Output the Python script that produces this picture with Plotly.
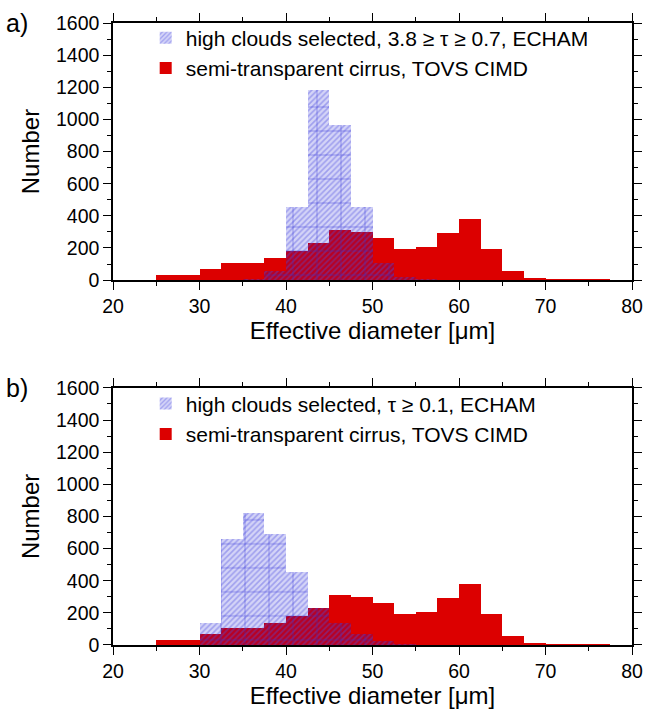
import plotly.graph_objects as go

# Bin left edges of effective diameter [µm], bin width 2.5
bin_lo = [20, 22.5, 25, 27.5, 30, 32.5, 35, 37.5, 40, 42.5, 45, 47.5,
          50, 52.5, 55, 57.5, 60, 62.5, 65, 67.5, 70, 72.5, 75, 77.5]
bin_width = 2.5

# TOVS CIMD semi-transparent cirrus (same in both panels)
tovs = [0, 0, 30, 35, 72, 108, 108, 140, 182, 232, 312, 300,
        263, 195, 207, 292, 378, 195, 58, 15, 8, 3, 1, 0]

# ECHAM high clouds, 3.8 >= tau >= 0.7
echam_a = [0, 0, 0, 0, 0, 2, 8, 58, 458, 1183, 965, 452,
           107, 22, 4, 1, 0, 0, 0, 0, 0, 0, 0, 0]
# ECHAM high clouds, tau >= 0.1
echam_b = [0, 0, 0, 0, 136, 660, 820, 692, 457, 230, 140, 68,
           25, 6, 2, 0, 0, 0, 0, 0, 0, 0, 0, 0]

name_a = "high clouds selected, 3.8 \u2265 \u03c4 \u2265 0.7, ECHAM"
name_b = "high clouds selected, \u03c4 \u2265 0.1, ECHAM"
name_red = "semi-transparent cirrus, TOVS CIMD"

x_ticks = [20, 30, 40, 50, 60, 70, 80]
y_ticks = [0, 200, 400, 600, 800, 1000, 1200, 1400, 1600]

FONT = "Liberation Sans, Arial, Helvetica, sans-serif"
RED = "rgb(220,0,0)"

fig = go.Figure()

panels = [("x", "y", echam_a, name_a, "legend"),
          ("x2", "y2", echam_b, name_b, "legend2")]

for xa, ya, echam, nm, lg in panels:
    fig.add_trace(go.Bar(
        x=bin_lo, y=tovs, width=bin_width, offset=0,
        xaxis=xa, yaxis=ya, name=name_red, legend=lg, legendrank=2,
        marker=dict(color=RED, line=dict(width=0)),
    ))
    fig.add_trace(go.Bar(
        x=bin_lo, y=echam, width=bin_width, offset=0,
        xaxis=xa, yaxis=ya, name=nm, legend=lg, legendrank=1,
        marker=dict(
            color="rgba(0,0,208,0.17)",
            line=dict(width=0),
            pattern=dict(shape="/", fillmode="overlay", fgcolor="rgb(80,80,225)",
                         fgopacity=0.4, size=4, solidity=0.4),
        ),
    ))
    fig.add_trace(go.Bar(
        x=bin_lo, y=echam, width=bin_width, offset=0,
        xaxis=xa, yaxis=ya, name=nm, legend=lg, showlegend=False,
        marker=dict(
            color="rgba(0,0,0,0)",
            line=dict(width=0),
            pattern=dict(shape="+", fillmode="replace", fgcolor="rgb(40,40,210)",
                         fgopacity=0.55, size=24, solidity=0.06),
        ),
    ))

axis_common = dict(
    showline=True, linecolor="black", linewidth=1.5, mirror="ticks",
    ticks="outside", ticklen=8, tickwidth=1.2, tickcolor="black",
    showgrid=False, zeroline=False,
    tickfont=dict(family=FONT, size=19.5, color="black"),
)

xax = dict(axis_common, range=[20, 80], tickvals=x_ticks,
           minor=dict(dtick=5, tick0=20, ticks="outside", ticklen=4, tickcolor="black", tickwidth=1.2),
           title=dict(text="Effective diameter [\u03bcm]", font=dict(family=FONT, size=24, color="black"),
                      standoff=5))
yax = dict(axis_common, range=[0, 1600], tickvals=y_ticks,
           minor=dict(dtick=100, tick0=0, ticks="outside", ticklen=4, tickcolor="black", tickwidth=1.2),
           title=dict(text="Number", font=dict(family=FONT, size=24, color="black"), standoff=10))

top_dom = [0.5866, 1.0]
bot_dom = [0.0, 0.4134]

legend_common = dict(
    bgcolor="rgba(0,0,0,0)", borderwidth=0, xanchor="left", yanchor="top",
    font=dict(family=FONT, size=21, color="black"), tracegroupgap=0,
)

fig.update_layout(
    width=659, height=716,
    margin=dict(l=113, r=27, t=18, b=69),
    paper_bgcolor="white", plot_bgcolor="white",
    barmode="overlay", bargap=0,
    font=dict(family=FONT, color="black"),
    xaxis=dict(xax, domain=[0, 1], anchor="y"),
    yaxis=dict(yax, domain=top_dom, anchor="x"),
    xaxis2=dict(xax, domain=[0, 1], anchor="y2"),
    yaxis2=dict(yax, domain=bot_dom, anchor="x2"),
    legend=dict(legend_common, x=0.063, y=1.0087),
    legend2=dict(legend_common, x=0.063, y=0.4205),
    annotations=[
        dict(text="a)", x=-0.21, y=1.0, xref="paper", yref="paper", xanchor="left", yanchor="middle",
             showarrow=False, font=dict(family=FONT, size=25, color="black")),
        dict(text="b)", x=-0.21, y=bot_dom[1], xref="paper", yref="paper", xanchor="left", yanchor="middle",
             showarrow=False, font=dict(family=FONT, size=25, color="black")),
    ],
)

fig.write_html("out.html",
               config={"displayModeBar": False},
               post_script="document.body.style.margin='0';document.body.style.overflow='hidden';")
